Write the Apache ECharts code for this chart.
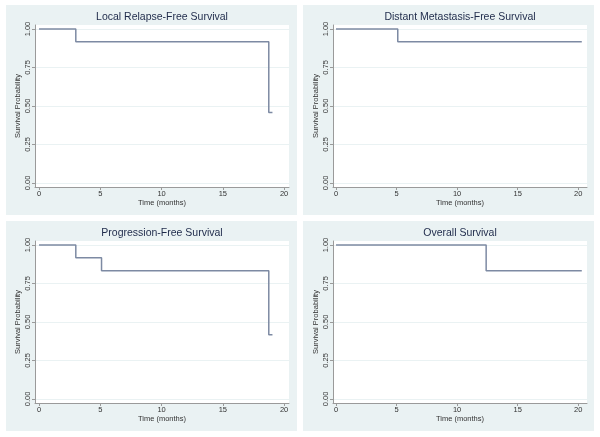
<!DOCTYPE html>
<html>
<head>
<meta charset="utf-8">
<script src="https://cdn.jsdelivr.net/npm/echarts@6/dist/echarts.min.js"></script>
<style>
  html, body { margin: 0; padding: 0; background: #ffffff; }
  #km-chart { width: 600px; height: 437px; }
</style>
</head>
<body>
<div id="km-chart"></div>
<script>
// Kaplan-Meier estimates
const panelTitles = ['Local Relapse-Free Survival', 'Distant Metastasis-Free Survival', 'Progression-Free Survival', 'Overall Survival'];

const lrfsTime = [0, 3.0, 18.75, 19.05];
const lrfsSurv = [1, 0.917, 0.458, 0.458];

const dmfsTime = [0, 5.1, 20.3];
const dmfsSurv = [1, 0.917, 0.917];

const pfsTime = [0, 3.0, 5.1, 18.75, 19.05];
const pfsSurv = [1, 0.917, 0.833, 0.417, 0.417];

const osTime = [0, 12.4, 20.3];
const osSurv = [1, 0.833, 0.833];

const xTicks = [0, 5, 10, 15, 20];
const yTicks = [0, 0.25, 0.5, 0.75, 1];

const xAxisTitle = 'Time (months)';
const yAxisTitle = 'Survival Probability';

const curves = [
    [lrfsTime, lrfsSurv],
    [dmfsTime, dmfsSurv],
    [pfsTime, pfsSurv],
    [osTime, osSurv],
];

// layout of the 2x2 panels (pixels)
const panels = [
    {bg: [6, 5, 291, 210], grid: {left: 35, top: 25, width: 254, height: 162}, xRange: [-0.33, 20.4]},
    {bg: [303, 5, 291, 210], grid: {left: 333, top: 25, width: 254, height: 162}, xRange: [-0.25, 20.73]},
    {bg: [6, 221, 291, 210], grid: {left: 35, top: 241, width: 254, height: 162}, xRange: [-0.33, 20.4]},
    {bg: [303, 221, 291, 210], grid: {left: 333, top: 241, width: 254, height: 162}, xRange: [-0.25, 20.73]},
];

const fontFamily = 'Liberation Sans, Helvetica, Arial, sans-serif';
const axisGray = '#9a9a9a';
const labelColor = '#333333';
const lineColor = '#7d8aa3';
const panelBg = '#eaf2f3';

const graphics = [];
panels.forEach((p, i) => {
    graphics.push({
        type: 'rect',
        z: -10,
        shape: {x: p.bg[0], y: p.bg[1], width: p.bg[2], height: p.bg[3]},
        style: {fill: panelBg},
        silent: true,
    });
    graphics.push({
        type: 'rect',
        z: -9,
        shape: {x: p.grid.left, y: p.grid.top, width: p.grid.width, height: p.grid.height},
        style: {fill: '#ffffff'},
        silent: true,
    });
    graphics.push({
        type: 'text',
        z: 10,
        x: p.grid.left + p.grid.width / 2,
        y: p.grid.top - 8,
        style: {
            text: panelTitles[i],
            fill: '#1e2a4a',
            font: '10.5px ' + fontFamily,
            textAlign: 'center',
            textVerticalAlign: 'middle',
        },
    });
});

const option = {
    animation: false,
    backgroundColor: '#ffffff',
    graphic: graphics,
    grid: panels.map((p) => ({
        left: p.grid.left,
        top: p.grid.top,
        width: p.grid.width,
        height: p.grid.height,
        containLabel: false,
    })),
    xAxis: panels.map((p, i) => ({
        type: 'value',
        gridIndex: i,
        min: p.xRange[0],
        max: p.xRange[1],
        name: xAxisTitle,
        nameLocation: 'middle',
        nameGap: 11,
        nameTextStyle: {color: labelColor, fontSize: 7.5, fontFamily: fontFamily},
        axisLine: {show: true, onZero: false, lineStyle: {color: axisGray, width: 1}},
        axisTick: {show: true, length: 3, customValues: xTicks, lineStyle: {color: axisGray}},
        axisLabel: {customValues: xTicks, color: labelColor, fontSize: 7.5, fontFamily: fontFamily, margin: 3},
        splitLine: {show: false},
    })),
    yAxis: panels.map((p, i) => ({
        type: 'value',
        gridIndex: i,
        min: -0.026,
        max: 1.026,
        name: yAxisTitle,
        nameLocation: 'middle',
        nameGap: 13,
        nameTextStyle: {color: labelColor, fontSize: 7.5, fontFamily: fontFamily},
        axisLine: {show: true, onZero: false, lineStyle: {color: axisGray, width: 1}},
        axisTick: {show: true, length: 3, customValues: yTicks, lineStyle: {color: axisGray}},
        axisLabel: {
            customValues: yTicks,
            rotate: 90,
            color: labelColor,
            fontSize: 7.5,
            fontFamily: fontFamily,
            margin: 3,
            formatter: (v) => v.toFixed(2),
        },
        splitLine: {show: true, lineStyle: {color: panelBg, width: 1}},
    })),
    series: curves.map((c, i) => ({
        type: 'line',
        xAxisIndex: i,
        yAxisIndex: i,
        step: 'end',
        symbol: 'none',
        data: c[0].map((t, k) => [t, c[1][k]]),
        lineStyle: {color: lineColor, width: 1.5},
        silent: true,
    })),
};

const chart = echarts.init(document.getElementById('km-chart'));
chart.setOption(option);
</script>
</body>
</html>
